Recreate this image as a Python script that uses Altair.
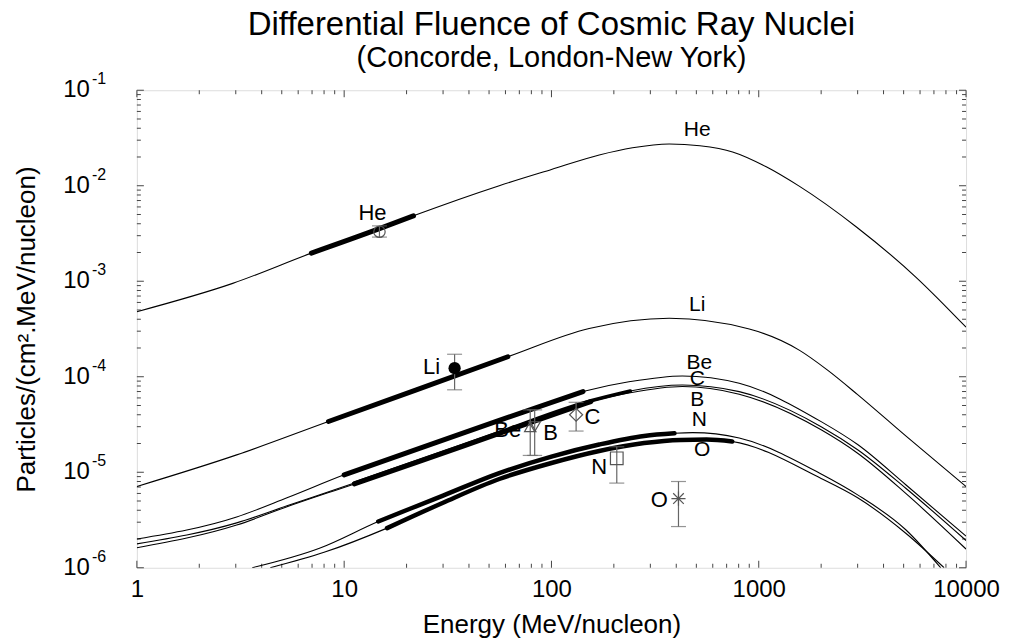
import altair as alt
import pandas as pd

FONT = "Liberation Sans"
W, H = 830, 478

# ---------------- curves (Energy MeV/nucleon, differential fluence) ----------------
he_E = [1, 2.9, 6.95, 14.8, 21.6, 56, 100, 170, 246, 370, 520, 748, 1087, 1567, 2960, 5740, 10000]
he_F = [4.8e-4, 9.5e-4, 1.97e-3, 3.55e-3, 4.84e-3, 1.0e-2, 1.48e-2, 2.1e-2, 2.5e-2, 2.74e-2, 2.62e-2,
        2.26e-2, 1.58e-2, 9.9e-3, 3.7e-3, 1.1e-3, 3.3e-4]

li_E = [1, 3.03, 8.4, 22.3, 61.6, 152, 370, 900, 1567, 2140, 3000, 5120, 10000]
li_F = [7.1e-6, 1.52e-5, 3.4e-5, 7.3e-5, 1.62e-4, 3.2e-4, 4.09e-4, 3.16e-4, 1.9e-4, 1.18e-4, 6.5e-5, 2.4e-5, 7.1e-6]

be_E = [1, 3.03, 5.3, 10, 24, 56, 142, 240, 428, 805, 2000, 3000, 5120, 10000]
be_F = [2.0e-6, 3.4e-6, 5.4e-6, 9.4e-6, 1.83e-5, 3.5e-5, 7.0e-5, 8.9e-5, 1.02e-4, 8.55e-5, 3.39e-5, 1.95e-5, 7.4e-6, 2.14e-6]

c_E = [1, 3.03, 5.3, 11.2, 24, 56, 155, 240, 428, 805, 2000, 3000, 5120, 10000]
c_F = [1.78e-6, 2.95e-6, 4.45e-6, 7.7e-6, 1.37e-5, 2.62e-5, 5.6e-5, 7.1e-5, 8.2e-5, 6.98e-5, 3.0e-5, 1.72e-5, 6.8e-6, 1.93e-6]

b_E = [1, 3.03, 5.3, 11.2, 24, 56, 155, 240, 428, 805, 2000, 3000, 5120, 10000]
b_F = [1.62e-6, 2.8e-6, 4.35e-6, 7.55e-6, 1.34e-5, 2.55e-5, 5.5e-5, 6.8e-5, 7.9e-5, 6.56e-5, 2.78e-5, 1.58e-5, 6.0e-6, 1.57e-6]

n_E = [3.6, 7.6, 14.6, 30, 56, 100, 170, 280, 392, 480, 805, 2000, 3000, 5120, 7550]
n_F = [1e-6, 1.6e-6, 3.05e-6, 5.7e-6, 9.8e-6, 1.46e-5, 1.95e-5, 2.4e-5, 2.56e-5, 2.6e-5, 2.28e-5, 9.6e-6,
       5.8e-6, 2.5e-6, 1e-6]

o_E = [4.4, 8, 16.1, 30, 56, 100, 170, 280, 420, 560, 745, 2000, 3000, 5120, 7840]
o_F = [1e-6, 1.45e-6, 2.6e-6, 4.8e-6, 8.5e-6, 1.25e-5, 1.67e-5, 2.02e-5, 2.18e-5, 2.2e-5, 2.1e-5, 8.6e-6,
       5.4e-6, 2.3e-6, 1e-6]

curves = {"He": (he_E, he_F), "Li": (li_E, li_F), "Be": (be_E, be_F), "C": (c_E, c_F),
          "B": (b_E, b_F), "N": (n_E, n_F), "O": (o_E, o_F)}

# thick (measured range) segments
thick_ion = ["He", "Li", "Be", "B", "C", "N", "O"]
thick_lo = [6.95, 8.4, 10, 11.2, 11.2, 14.6, 16.1]
thick_hi = [21.6, 61.6, 142, 155, 240, 392, 745]
thick_w = [5, 5, 5, 5, 3.5, 4.5, 4.5]

# measured points with error bars
pt_ion = ["He", "Li", "Be", "B", "C", "N", "O"]
pt_E = [14.8, 34.1, 79, 83, 131.5, 206.6, 410]
pt_F = [3.3e-3, 1.23e-4, 3.0e-5, 3.0e-5, 4.0e-5, 1.4e-5, 5.3e-6]
pt_lo = [2.9e-3, 7.3e-5, 1.5e-5, 1.5e-5, 2.7e-5, 7.7e-6, 2.7e-6]
pt_hi = [3.8e-3, 1.72e-4, 4.5e-5, 4.5e-5, 5.4e-5, 1.85e-5, 8.0e-6]

# curve labels and point labels
lab_txt = ["He", "Li", "Be", "C", "B", "N", "O"]
lab_E = [505, 505, 517, 505, 505, 517, 534]
lab_F = [3.82e-2, 5.64e-4, 1.39e-4, 9.5e-5, 5.71e-5, 3.53e-5, 1.71e-5]

plab_txt = ["He", "Li", "Be", "B", "C", "N", "O"]
plab_E = [13.7, 26.4, 61.5, 98.9, 157.7, 170, 331]
plab_F = [5.17e-3, 1.27e-4, 2.78e-5, 2.59e-5, 3.8e-5, 1.14e-5, 5.14e-6]

# axis ticks
x_major = [1, 10, 100, 1000, 10000]
x_minor = [m * 10 ** k for k in range(4) for m in range(2, 10)]
y_major = [1e-6, 1e-5, 1e-4, 1e-3, 1e-2, 1e-1]
y_exp = ["-6", "-5", "-4", "-3", "-2", "-1"]
y_minor = [m * 10.0 ** k for k in range(-6, -1) for m in range(2, 10)]

# ---------------- build tables ----------------
curve_df = pd.concat([pd.DataFrame({"ion": k, "E": v[0], "F": v[1]}) for k, v in curves.items()],
                     ignore_index=True)
seg_parts = []
for i, (ion, lo, hi, w) in enumerate(zip(thick_ion, thick_lo, thick_hi, thick_w)):
    sub = curve_df[(curve_df.ion == ion) & (curve_df.E >= lo * 0.999) & (curve_df.E <= hi * 1.001)].copy()
    sub["seg"] = i
    sub["w"] = w
    seg_parts.append(sub)
seg_df = pd.concat(seg_parts, ignore_index=True)

pts_df = pd.DataFrame({"ion": pt_ion, "E": pt_E, "F": pt_F, "lo": pt_lo, "hi": pt_hi})
lab_df = pd.DataFrame({"txt": lab_txt, "E": lab_E, "F": lab_F})
plab_df = pd.DataFrame({"txt": plab_txt, "E": plab_E, "F": plab_F})

xs = alt.Scale(type="log", domain=[1, 10000], nice=False)
ys = alt.Scale(type="log", domain=[1e-6, 1e-1], nice=False)
xaxis = alt.Axis(values=x_major, format=".0f", ticks=False, tickSize=0, domain=False, grid=False,
                 labelFont=FONT, labelFontSize=24, labelColor="black", labelPadding=10,
                 labelFlush=False, labelOverlap=False,
                 title="Energy (MeV/nucleon)", titleFont=FONT, titleFontSize=26,
                 titleFontWeight="normal", titleColor="black", titlePadding=10)
yaxis = alt.Axis(labels=False, ticks=False, tickSize=0, domain=False, grid=False,
                 title="Particles/(cm².MeV/nucleon)", titleFont=FONT, titleFontSize=26,
                 titleFontWeight="normal", titleColor="black", titlePadding=97)


def X(f="E"):
    return alt.X(f"{f}:Q", scale=xs, axis=xaxis)


def Y(f="F"):
    return alt.Y(f"{f}:Q", scale=ys, axis=yaxis)


TC = "#444444"
TL_MAJ, TL_MIN = 7, 4

xmaj_df = pd.DataFrame({"E": x_major})
xmin_df = pd.DataFrame({"E": x_minor})
ymaj_df = pd.DataFrame({"F": y_major, "txt": ["10"] * len(y_major), "sup": y_exp})
ymin_df = pd.DataFrame({"F": y_minor})

layers = []
# inward ticks, four sides
for df, L in ((xmaj_df, TL_MAJ), (xmin_df, TL_MIN)):
    layers.append(alt.Chart(df).mark_rule(color=TC, strokeWidth=1).encode(
        x=X(), y=alt.value(H), y2=alt.value(H - L)))
    layers.append(alt.Chart(df).mark_rule(color=TC, strokeWidth=1).encode(
        x=X(), y=alt.value(0), y2=alt.value(L)))
for df, L in ((ymaj_df, TL_MAJ), (ymin_df, TL_MIN)):
    layers.append(alt.Chart(df).mark_rule(color=TC, strokeWidth=1).encode(
        y=Y(), x=alt.value(0), x2=alt.value(L)))
    layers.append(alt.Chart(df).mark_rule(color=TC, strokeWidth=1).encode(
        y=Y(), x=alt.value(W), x2=alt.value(W - L)))

# y tick labels 10^n
layers.append(alt.Chart(ymaj_df).mark_text(align="right", baseline="middle", font=FONT,
                                           fontSize=24, color="black").encode(
    y=Y(), x=alt.value(-47), text="txt:N"))
layers.append(alt.Chart(ymaj_df).mark_text(align="left", baseline="middle", font=FONT,
                                           fontSize=16, color="black", dy=-11).encode(
    y=Y(), x=alt.value(-45), text="sup:N"))

# thin curves
layers.append(alt.Chart(curve_df).mark_line(color="black", strokeWidth=1.1, interpolate="monotone",
                                            clip=True).encode(
    x=X(), y=Y(), detail="ion:N"))
# thick segments
layers.append(alt.Chart(seg_df).mark_line(color="black", interpolate="monotone", strokeCap="round",
                                          clip=True).encode(
    x=X(), y=Y(), detail="seg:N", size=alt.Size("w:Q", scale=None, legend=None)))

# error bars
EC = "#666666"
layers.append(alt.Chart(pts_df).mark_rule(color=EC, strokeWidth=1.2).encode(
    x=X(), y=Y("lo"), y2=alt.Y2("hi")))
for f in ("lo", "hi"):
    layers.append(alt.Chart(pts_df).mark_tick(color=EC, orient="horizontal", size=15, thickness=1.2).encode(
        x=X(), y=Y(f)))

# markers
MC = "#555555"
shapes = {"He": ("circle", 130), "Be": ("triangle-up", 130), "B": ("triangle-down", 130),
          "C": ("diamond", 170), "N": ("square", 160),
          "O": ("M0,-1L0,1M-1,0L1,0M-0.75,-0.75L0.75,0.75M-0.75,0.75L0.75,-0.75", 200)}
for ion, (shp, sz) in shapes.items():
    layers.append(alt.Chart(pts_df[pts_df.ion == ion]).mark_point(
        shape=shp, size=sz, filled=False, color=MC, strokeWidth=1.2, opacity=1).encode(x=X(), y=Y()))
layers.append(alt.Chart(pts_df[pts_df.ion == "Li"]).mark_point(
    shape="circle", size=150, filled=True, color="black", opacity=1).encode(x=X(), y=Y()))

# labels
layers.append(alt.Chart(lab_df).mark_text(font=FONT, fontSize=21, color="black", align="center",
                                          baseline="middle").encode(x=X(), y=Y(), text="txt:N"))
layers.append(alt.Chart(plab_df).mark_text(font=FONT, fontSize=22, color="black", align="center",
                                           baseline="middle").encode(x=X(), y=Y(), text="txt:N"))

chart = alt.layer(*layers).properties(
    width=W, height=H,
    title=alt.TitleParams(text="Differential Fluence of Cosmic Ray Nuclei",
                          subtitle="(Concorde, London-New York)",
                          font=FONT, fontSize=33, fontWeight="normal", color="black",
                          subtitleFont=FONT, subtitleFontSize=29, subtitleColor="black",
                          anchor="middle", frame="group", offset=-2, subtitlePadding=2),
    padding={"left": 129, "top": 82, "right": 36, "bottom": 72},
    autosize=alt.AutoSizeParams(type="none"),
).configure_view(stroke="#444444", strokeWidth=1).configure(background="white")

chart.save("out.html", embed_options={"renderer": "svg", "actions": False})
